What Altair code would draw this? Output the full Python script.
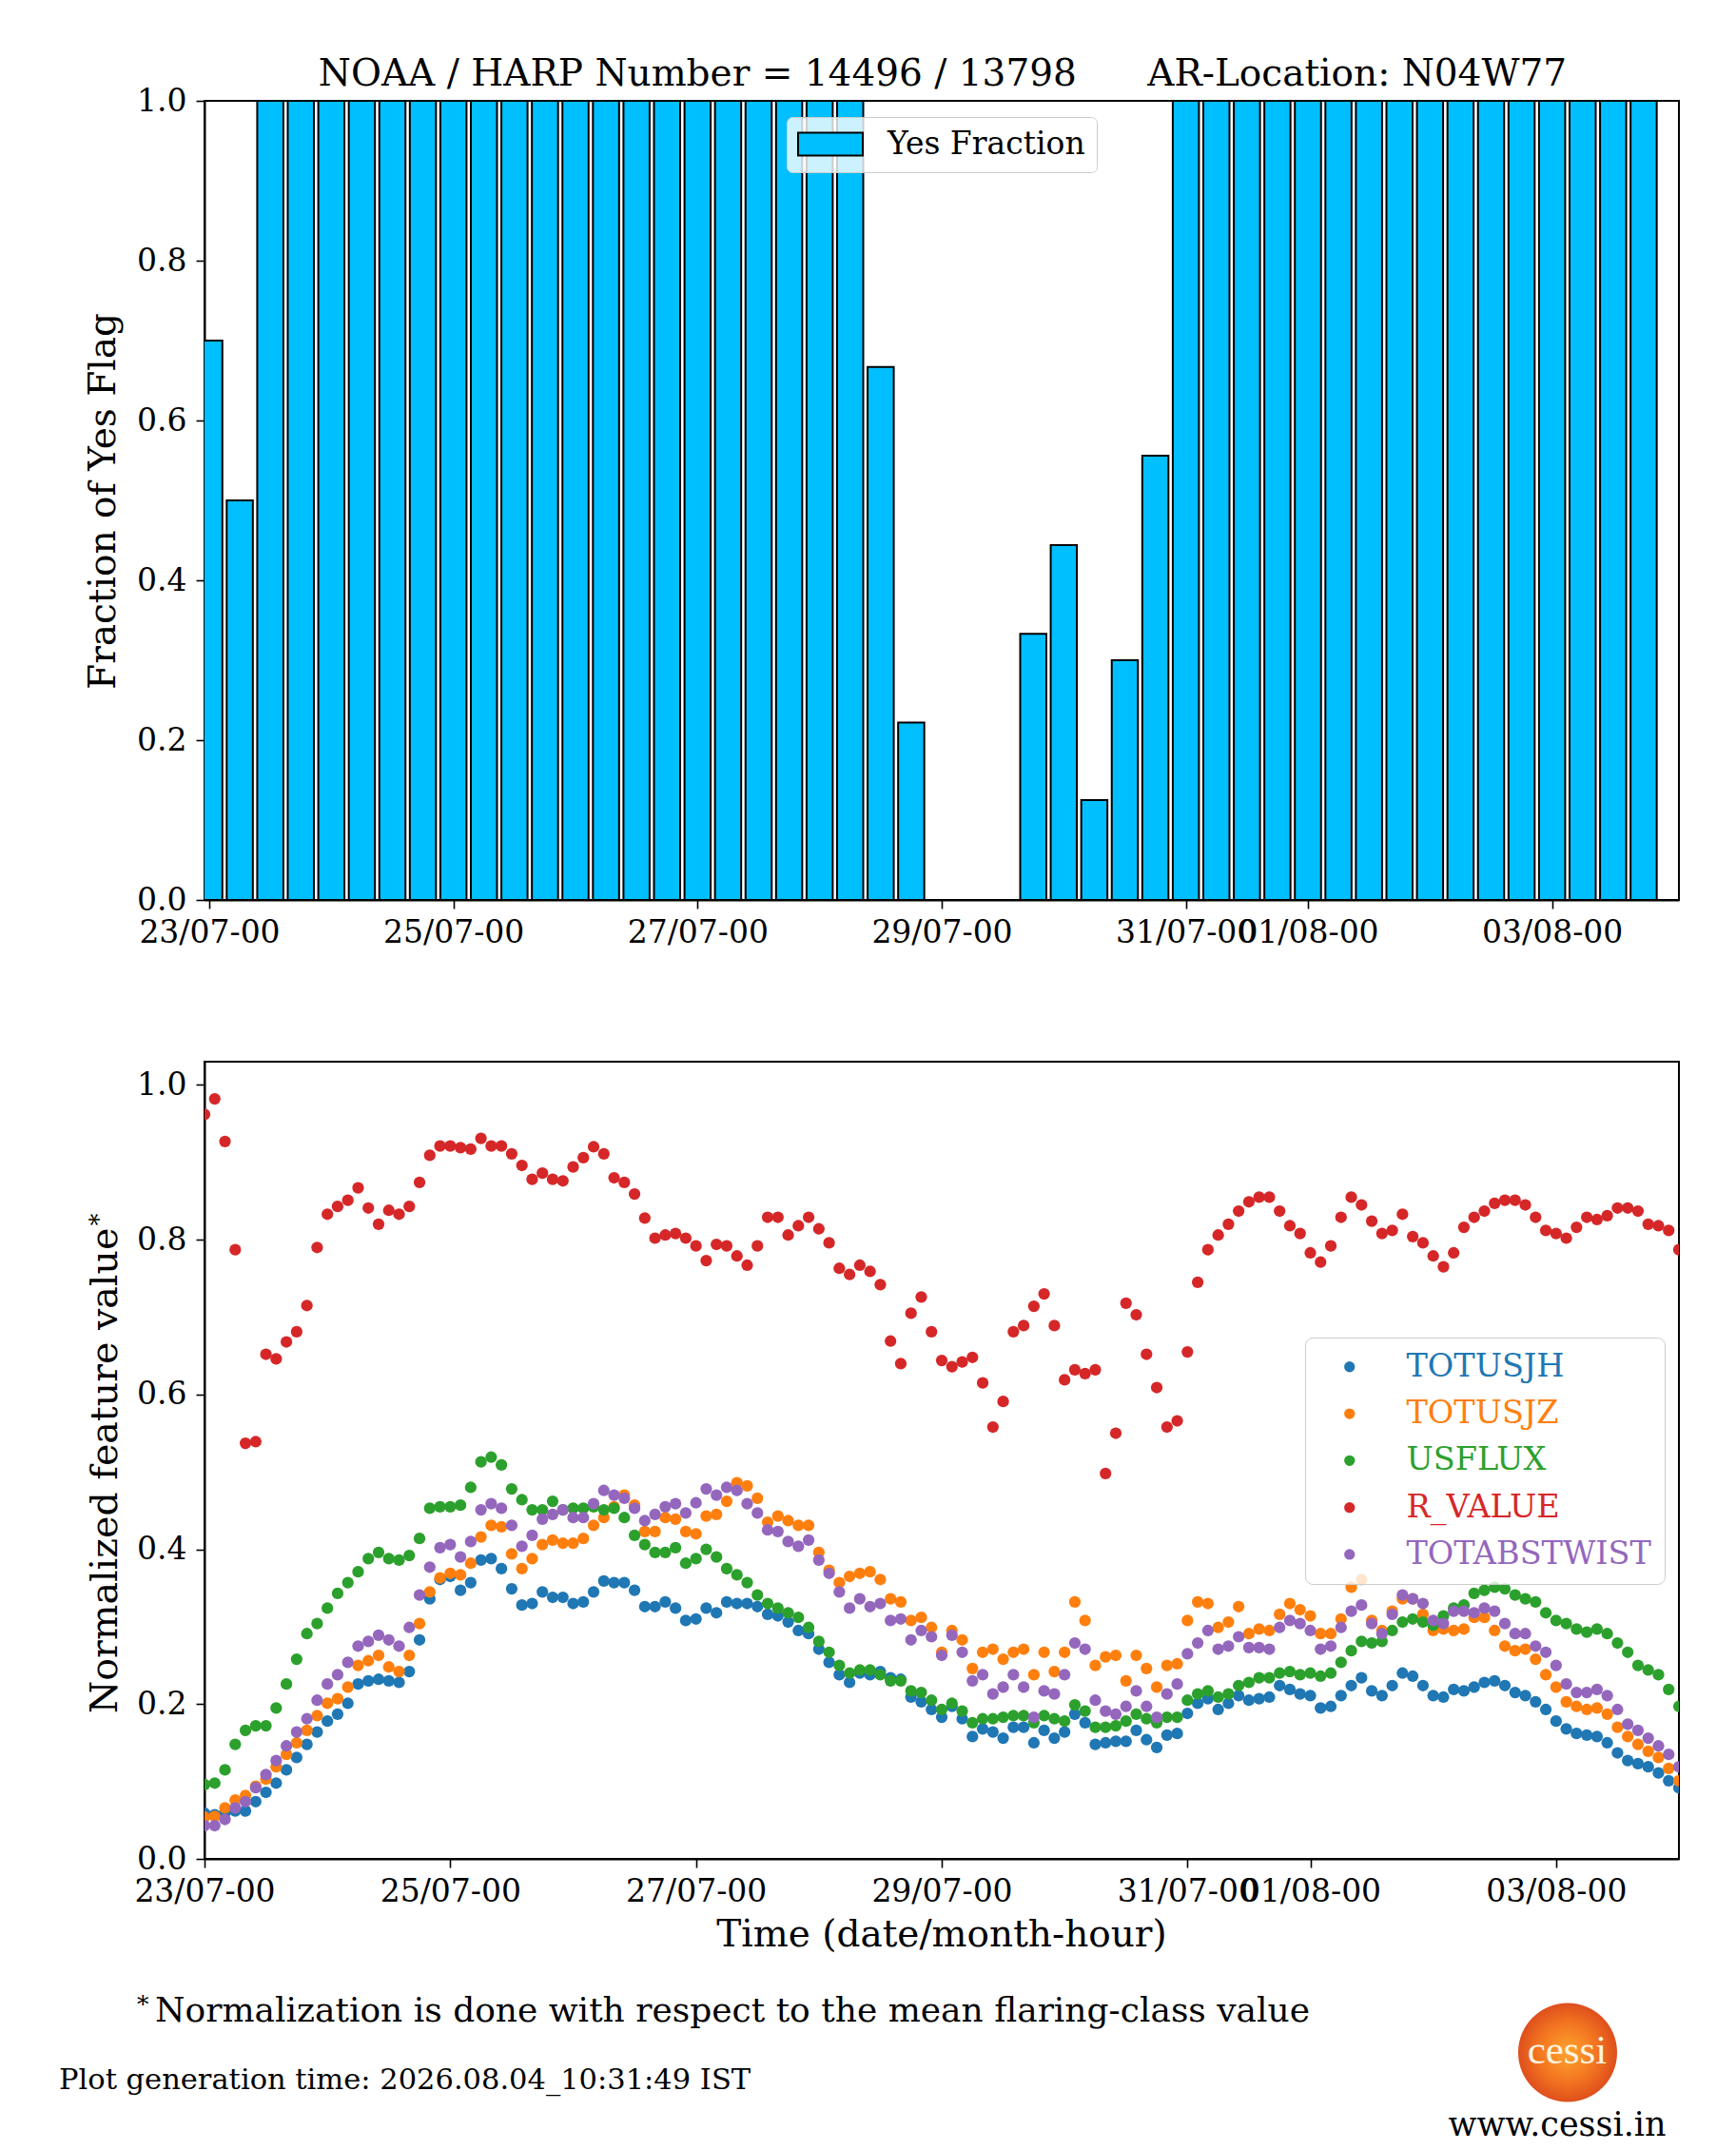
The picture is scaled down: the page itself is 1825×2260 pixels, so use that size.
import altair as alt
import pandas as pd

FONT = "DejaVu Serif"
NBSP = "\u00a0"

# ---------------- texts ----------------
TITLE_LEFT = "NOAA / HARP Number = 14496 / 13798"
TITLE_RIGHT = "AR-Location: N04W77"
TOP_YLABEL = "Fraction of Yes Flag"
BOTTOM_YLABEL = "Normalized feature value"
XLABEL = "Time (date/month-hour)"
FOOTNOTE = "Normalization is done with respect to the mean flaring-class value"
GENTIME = "Plot generation time: 2026.08.04_10:31:49 IST"
LOGO_TEXT = "cessi"
URL_TEXT = "www.cessi.in"

# ---------------- axes ----------------
START = "2026-07-23 00:00"
START_DATE = (2026, 7, 23)
END_DATE = (2026, 8, 4)
TICK_DATES = [(2026, 7, 23), (2026, 7, 25), (2026, 7, 27), (2026, 7, 29),
              (2026, 7, 31), (2026, 8, 1), (2026, 8, 3)]
TICK_FORMAT = "%d/%m-%H"
Y_TICKS = [0.0, 0.2, 0.4, 0.6, 0.8, 1.0]

# ---------------- top panel: yes fraction per 6-hour bin ----------------
BAR_STEP = "6h"
BAR_LABEL = "Yes Fraction"
YES_FRACTION = [
    0.70, 0.50, 1.0, 1.0, 1.0, 1.0, 1.0, 1.0, 1.0, 1.0, 1.0, 1.0,
    1.0, 1.0, 1.0, 1.0, 1.0, 1.0, 1.0, 1.0, 1.0, 1.0, 0.667, 0.222,
    0.0, 0.0, 0.0, 0.333, 0.444, 0.125, 0.30, 0.556, 1.0, 1.0, 1.0, 1.0,
    1.0, 1.0, 1.0, 1.0, 1.0, 1.0, 1.0, 1.0, 1.0, 1.0, 1.0, 1.0,
]

# ---------------- bottom panel: normalized features every 2 hours ----------------
FEATURE_STEP = "2h"
SERIES = ["TOTUSJH", "TOTUSJZ", "USFLUX", "R_VALUE", "TOTABSTWIST"]
COLORS = ["#1f77b4", "#ff7f0e", "#2ca02c", "#d62728", "#9467bd"]

TOTUSJH = [
    0.059, 0.057, 0.059, 0.062, 0.062, 0.074, 0.086, 0.098, 0.115, 0.131, 0.148, 0.164,
    0.178, 0.187, 0.201, 0.226, 0.230, 0.232, 0.230, 0.228, 0.242, 0.283, 0.336, 0.361,
    0.365, 0.347, 0.357, 0.386, 0.388, 0.375, 0.349, 0.328, 0.330, 0.345, 0.338, 0.338,
    0.330, 0.332, 0.345, 0.359, 0.357, 0.357, 0.347, 0.326, 0.326, 0.332, 0.324, 0.308,
    0.310, 0.324, 0.318, 0.332, 0.330, 0.330, 0.326, 0.316, 0.314, 0.306, 0.295, 0.291,
    0.271, 0.254, 0.238, 0.228, 0.240, 0.238, 0.242, 0.234, 0.232, 0.209, 0.203, 0.193,
    0.183, 0.197, 0.181, 0.158, 0.168, 0.164, 0.156, 0.170, 0.170, 0.150, 0.166, 0.156,
    0.164, 0.187, 0.176, 0.148, 0.150, 0.152, 0.152, 0.166, 0.154, 0.144, 0.160, 0.162,
    0.188, 0.201, 0.207, 0.193, 0.201, 0.211, 0.205, 0.207, 0.209, 0.224, 0.219, 0.213,
    0.211, 0.195, 0.197, 0.211, 0.224, 0.234, 0.217, 0.211, 0.224, 0.240, 0.236, 0.224,
    0.211, 0.209, 0.219, 0.217, 0.222, 0.228, 0.230, 0.224, 0.215, 0.211, 0.203, 0.193,
    0.178, 0.168, 0.162, 0.160, 0.158, 0.150, 0.137, 0.127, 0.123, 0.119, 0.111, 0.101,
    0.092,
]
TOTUSJZ = [
    0.054, 0.055, 0.066, 0.076, 0.082, 0.094, 0.103, 0.119, 0.135, 0.150, 0.166, 0.185,
    0.201, 0.207, 0.222, 0.250, 0.256, 0.263, 0.248, 0.242, 0.263, 0.304, 0.345, 0.363,
    0.369, 0.367, 0.382, 0.416, 0.431, 0.429, 0.394, 0.375, 0.388, 0.406, 0.412, 0.408,
    0.408, 0.414, 0.431, 0.441, 0.455, 0.470, 0.457, 0.423, 0.423, 0.441, 0.439, 0.423,
    0.420, 0.443, 0.445, 0.462, 0.486, 0.482, 0.466, 0.435, 0.443, 0.437, 0.431, 0.431,
    0.396, 0.373, 0.357, 0.365, 0.369, 0.371, 0.361, 0.336, 0.332, 0.308, 0.312, 0.299,
    0.267, 0.295, 0.283, 0.246, 0.267, 0.271, 0.258, 0.267, 0.271, 0.238, 0.267, 0.242,
    0.267, 0.332, 0.308, 0.250, 0.261, 0.263, 0.230, 0.263, 0.246, 0.222, 0.250, 0.252,
    0.308, 0.332, 0.330, 0.299, 0.306, 0.326, 0.291, 0.297, 0.295, 0.316, 0.330, 0.322,
    0.314, 0.291, 0.291, 0.310, 0.351, 0.361, 0.308, 0.295, 0.320, 0.336, 0.336, 0.316,
    0.295, 0.297, 0.295, 0.297, 0.312, 0.312, 0.295, 0.275, 0.269, 0.271, 0.258, 0.238,
    0.222, 0.203, 0.197, 0.193, 0.195, 0.187, 0.170, 0.158, 0.148, 0.139, 0.131, 0.117,
    0.101,
]
USFLUX = [
    0.096, 0.098, 0.115, 0.148, 0.166, 0.172, 0.172, 0.195, 0.226, 0.258, 0.291, 0.304,
    0.324, 0.343, 0.357, 0.371, 0.388, 0.396, 0.388, 0.386, 0.392, 0.414, 0.453, 0.455,
    0.455, 0.457, 0.480, 0.513, 0.519, 0.509, 0.478, 0.464, 0.451, 0.451, 0.462, 0.451,
    0.453, 0.453, 0.455, 0.451, 0.453, 0.441, 0.418, 0.406, 0.396, 0.396, 0.402, 0.382,
    0.388, 0.400, 0.390, 0.375, 0.367, 0.357, 0.341, 0.330, 0.324, 0.318, 0.312, 0.299,
    0.281, 0.267, 0.250, 0.240, 0.244, 0.244, 0.238, 0.230, 0.230, 0.217, 0.215, 0.205,
    0.193, 0.201, 0.191, 0.176, 0.181, 0.181, 0.183, 0.185, 0.185, 0.176, 0.185, 0.181,
    0.178, 0.199, 0.191, 0.170, 0.170, 0.172, 0.178, 0.187, 0.181, 0.176, 0.183, 0.183,
    0.205, 0.213, 0.217, 0.209, 0.213, 0.224, 0.228, 0.234, 0.234, 0.240, 0.242, 0.238,
    0.240, 0.236, 0.240, 0.254, 0.269, 0.281, 0.279, 0.281, 0.295, 0.306, 0.310, 0.306,
    0.302, 0.314, 0.324, 0.328, 0.343, 0.347, 0.351, 0.349, 0.341, 0.336, 0.332, 0.318,
    0.308, 0.304, 0.297, 0.293, 0.297, 0.291, 0.279, 0.267, 0.250, 0.244, 0.238, 0.219,
    0.197,
]
R_VALUE = [
    0.962, 0.982, 0.927, 0.787, 0.537, 0.539, 0.652, 0.646, 0.668, 0.681, 0.715, 0.790,
    0.833, 0.843, 0.851, 0.867, 0.841, 0.820, 0.838, 0.833, 0.843, 0.874, 0.909, 0.921,
    0.921, 0.919, 0.917, 0.931, 0.921, 0.921, 0.911, 0.896, 0.878, 0.886, 0.878, 0.876,
    0.894, 0.906, 0.920, 0.911, 0.880, 0.874, 0.859, 0.828, 0.802, 0.806, 0.808, 0.802,
    0.792, 0.773, 0.794, 0.792, 0.779, 0.767, 0.792, 0.829, 0.829, 0.806, 0.818, 0.829,
    0.814, 0.796, 0.763, 0.755, 0.767, 0.759, 0.742, 0.669, 0.640, 0.705, 0.726, 0.681,
    0.644, 0.636, 0.642, 0.648, 0.615, 0.558, 0.591, 0.681, 0.689, 0.714, 0.730, 0.689,
    0.619, 0.632, 0.627, 0.632, 0.498, 0.550, 0.718, 0.703, 0.652, 0.609, 0.558, 0.566,
    0.655, 0.745, 0.787, 0.806, 0.820, 0.837, 0.849, 0.855, 0.855, 0.837, 0.818, 0.808,
    0.783, 0.771, 0.792, 0.829, 0.855, 0.845, 0.824, 0.808, 0.812, 0.833, 0.804, 0.796,
    0.779, 0.765, 0.783, 0.816, 0.829, 0.837, 0.847, 0.851, 0.851, 0.845, 0.829, 0.812,
    0.808, 0.802, 0.816, 0.829, 0.826, 0.831, 0.841, 0.841, 0.837, 0.820, 0.818, 0.812,
    0.787,
]
TOTABSTWIST = [
    0.043, 0.043, 0.051, 0.066, 0.074, 0.092, 0.109, 0.127, 0.146, 0.164, 0.181, 0.205,
    0.226, 0.238, 0.254, 0.275, 0.281, 0.289, 0.283, 0.275, 0.299, 0.341, 0.377, 0.402,
    0.406, 0.390, 0.410, 0.451, 0.459, 0.453, 0.431, 0.404, 0.418, 0.439, 0.445, 0.451,
    0.441, 0.441, 0.459, 0.476, 0.470, 0.466, 0.453, 0.437, 0.445, 0.455, 0.459, 0.447,
    0.460, 0.478, 0.470, 0.480, 0.476, 0.459, 0.447, 0.425, 0.423, 0.410, 0.404, 0.412,
    0.386, 0.369, 0.345, 0.324, 0.336, 0.326, 0.330, 0.308, 0.310, 0.283, 0.295, 0.287,
    0.263, 0.289, 0.267, 0.230, 0.238, 0.213, 0.222, 0.238, 0.222, 0.183, 0.217, 0.213,
    0.238, 0.279, 0.271, 0.205, 0.191, 0.187, 0.197, 0.217, 0.197, 0.183, 0.213, 0.226,
    0.265, 0.279, 0.295, 0.271, 0.275, 0.287, 0.273, 0.273, 0.271, 0.299, 0.308, 0.304,
    0.295, 0.271, 0.275, 0.299, 0.320, 0.328, 0.304, 0.291, 0.316, 0.341, 0.336, 0.330,
    0.308, 0.304, 0.320, 0.320, 0.318, 0.324, 0.320, 0.304, 0.291, 0.291, 0.275, 0.267,
    0.250, 0.226, 0.215, 0.215, 0.219, 0.211, 0.193, 0.174, 0.166, 0.156, 0.146, 0.135,
    0.119,
]

# ---------------- build tables ----------------
def iso(ts):
    return ts.strftime("%Y-%m-%dT%H:%M:%S")


bar_times = pd.date_range(START, periods=len(YES_FRACTION), freq=BAR_STEP)
bars = pd.DataFrame({
    "time": [iso(t) for t in bar_times],
    "frac": YES_FRACTION,
    "kind": [BAR_LABEL] * len(YES_FRACTION),
})

feat_times = [iso(t) for t in pd.date_range(START, periods=len(TOTUSJH), freq=FEATURE_STEP)]
rows = []
for name, vals in zip(SERIES, [TOTUSJH, TOTUSJZ, USFLUX, R_VALUE, TOTABSTWIST]):
    assert len(vals) == len(feat_times), name
    for t, v in zip(feat_times, vals):
        rows.append({"time": t, "value": v, "feature": name})
feats = pd.DataFrame(rows)


def dt(y, m, d):
    return alt.DateTime(year=y, month=m, date=d, hours=0)


def xenc():
    return alt.X(
        "time:T", title=None,
        scale=alt.Scale(domain=[dt(*START_DATE), dt(*END_DATE)], nice=False),
        axis=alt.Axis(values=[dt(*d) for d in TICK_DATES], format=TICK_FORMAT,
                      labelOverlap=False, labelFlush=False, labelBound=False),
    )


def one(s):
    return pd.DataFrame({"t": [s]})


def label(text, x, y, size, angle=0, align="center", font=FONT, color="black"):
    return alt.Chart(one(text)).mark_text(
        font=font, fontSize=size, angle=angle, align=align,
        baseline="alphabetic", color=color,
    ).encode(text="t:N", x=alt.value(x), y=alt.value(y))


def spacer(x, y1, y2):
    return alt.Chart(one("")).mark_rule(opacity=0, strokeWidth=1).encode(
        x=alt.value(x), y=alt.value(y1), y2=alt.value(y2))


W = 1550
H_TOP = 840
H_BOT = 838

# ---------------- top panel ----------------
bars_layer = alt.Chart(bars).mark_bar(size=27.5, stroke="black", strokeWidth=2, clip=True).encode(
    x=xenc(),
    y=alt.Y("frac:Q", title=None, scale=alt.Scale(domain=[0, 1], nice=False),
            axis=alt.Axis(values=Y_TICKS, format=".1f")),
    fill=alt.Fill(
        "kind:N", scale=alt.Scale(range=["#00bfff"]),
        legend=alt.Legend(
            title=None, orient="none", legendX=612, legendY=17, padding=12,
            symbolOffset=17.5, labelOffset=43.5,
            labelFont=FONT, labelFontSize=33, labelColor="black", labelLimit=600,
            symbolType="M-2.833,-1L2.833,-1L2.833,1L-2.833,1Z",
            symbolSize=576, symbolStrokeColor="black", symbolStrokeWidth=2,
            symbolOpacity=1, fillColor="rgba(255,255,255,0.8)",
            strokeColor="#cccccc", cornerRadius=6,
        ),
    ),
)

title_text = TITLE_LEFT + NBSP * 6 + TITLE_RIGHT
top = alt.layer(
    bars_layer,
    label(title_text, 776, -16, 39),
    label(TOP_YLABEL, -94, 421, 39, angle=270),
    spacer(-206, -97, 940),
).properties(width=W, height=H_TOP)

# ---------------- bottom panel ----------------
color_expr = " : ".join(f"datum.value === '{s}' ? '{c}'" for s, c in zip(SERIES, COLORS)) + " : 'black'"

points = alt.Chart(feats).mark_circle(size=150, opacity=1, clip=True).encode(
    x=xenc(),
    y=alt.Y("value:Q", title=None, scale=alt.Scale(domain=[0, 1.03], nice=False),
            axis=alt.Axis(values=Y_TICKS, format=".1f")),
    color=alt.Color(
        "feature:N", scale=alt.Scale(domain=SERIES, range=COLORS),
        legend=alt.Legend(
            title=None, orient="none", legendX=1157, legendY=290, padding=14,
            symbolOffset=16, labelOffset=43, rowPadding=14.3, symbolType="circle",
            symbolSize=128, symbolOpacity=1, labelFont=FONT, labelFontSize=33.5,
            labelLimit=600, labelColor=alt.ExprRef(color_expr),
            fillColor="rgba(255,255,255,0.8)", strokeColor="#cccccc", cornerRadius=8,
        ),
    ),
)

sun = alt.Chart(one("")).mark_circle(
    size=10816, opacity=1,
    fill=alt.RadialGradient(
        gradient="radial",
        stops=[alt.GradientStop(offset=0, color="#ffa430"),
               alt.GradientStop(offset=0.6, color="#f27420"),
               alt.GradientStop(offset=1, color="#de4f1c")],
    ),
).encode(x=alt.value(1433), y=alt.value(1041.5))

bottom = alt.layer(
    points,
    label(BOTTOM_YLABEL, -92, 430, 39.5, angle=270),
    label("*", -102, 166, 26, angle=270),
    label(XLABEL, 775, 930, 39),
    label("*", -71, 999, 25, align="left"),
    label(FOOTNOTE, -52, 1009, 36, align="left"),
    label(GENTIME, -153, 1080, 30.5, align="left"),
    sun,
    label(LOGO_TEXT, 1432.5, 1053, 43, font="Liberation Serif", color="#fff4e0"),
    label(URL_TEXT, 1422, 1129, 35),
    spacer(-206, -10, 0),
).properties(width=W, height=H_BOT)

chart = (
    alt.vconcat(top, bottom, spacing=58)
    .resolve_scale(color="independent", fill="independent")
    .properties(padding=0, background="white")
    .configure_view(stroke="black", strokeWidth=2)
    .configure_axis(
        labelFont=FONT, labelFontSize=33, labelColor="black", labelLimit=400,
        tickColor="black", tickSize=9, tickWidth=1.6,
        domainColor="black", domainWidth=2, grid=False,
    )
    .configure_axisX(labelPadding=9)
    .configure_axisY(labelPadding=10)
)

chart.save("out.html", embed_options={"renderer": "svg", "actions": False})
